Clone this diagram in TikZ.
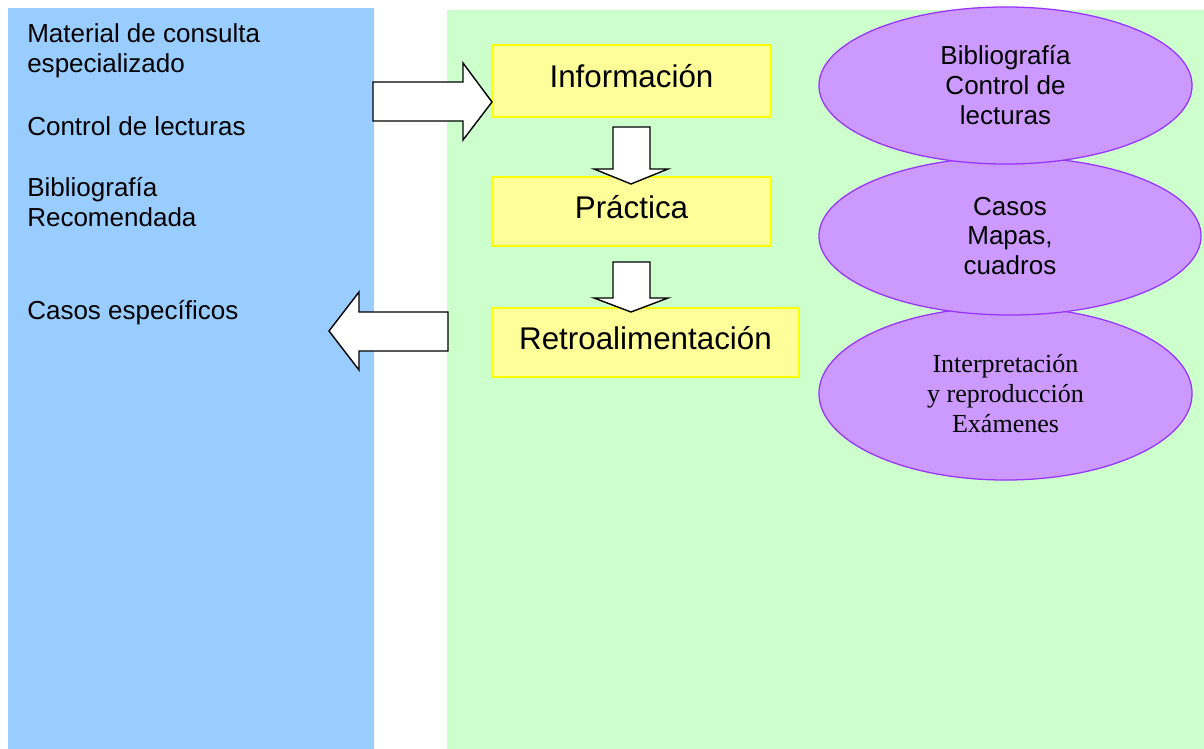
\documentclass[tikz,border=0pt]{standalone}
\usepackage{fontspec}
\setmainfont{Liberation Sans}
\newfontfamily\timesfont{Liberation Serif}
\usetikzlibrary{shapes.geometric}
\definecolor{panelblue}{HTML}{99CCFF}
\definecolor{panelgreen}{HTML}{CCFFCC}
\definecolor{boxfill}{HTML}{FFFF99}
\definecolor{boxline}{HTML}{FFFF00}
\definecolor{ovalfill}{HTML}{CC99FF}
\definecolor{ovalline}{HTML}{9933FF}
\begin{document}
\begin{tikzpicture}[x=0.025cm, y=-0.025cm,
                step box/.style={draw=boxline, fill=boxfill, line width=1pt, inner sep=0,
                    text depth=7pt, font=\fontsize{22.3}{26}\selectfont},
                oval/.style={ellipse, draw=ovalline, fill=ovalfill, line width=0.9pt, inner sep=0,
                    align=center, font=\fontsize{18.5}{21.3}\selectfont},
                side text/.style={anchor=north west, align=left, inner sep=0,
                    font=\fontsize{18.5}{21.3}\selectfont},
                block arrow/.style={draw, fill=white, line width=1pt, line join=miter}]
            \useasboundingbox (0,0) rectangle (1204,749);
            \fill [panelblue] (8,8) rectangle (374,749);
            \fill [panelgreen] (447,10) rectangle (1204,749);

            \node [side text] (material) at (27,23) {Material de consulta\\especializado};
            \node [side text] (control) at (27,116) {Control de lecturas};
            \node [side text] (biblio) at (27,177) {Bibliografía\\Recomendada};
            \node [side text] (casos) at (27,300) {Casos específicos};

            \node [step box, minimum width=6.975cm, minimum height=1.8cm] (info) at (631.5,81) {Información};
            \node [step box, minimum width=6.975cm, minimum height=1.725cm] (prac) at (631.5,211.5) {Práctica};
            \node [step box, minimum width=7.675cm, minimum height=1.725cm] (retro) at (645.5,342.5) {Retroalimentación};

            \node [oval, minimum width=9.325cm, minimum height=4.325cm] (exam) at (1005.5,393.5)
                {\timesfont Interpretación\\\timesfont y reproducción\\\timesfont Exámenes};
            \node [oval, minimum width=9.55cm, minimum height=3.95cm] (casosov) at (1010,236)
                {Casos\\Mapas,\\cuadros};
            \node [oval, minimum width=9.325cm, minimum height=3.925cm] (bibov) at (1005.5,85.5)
                {Bibliografía\\Control de\\lecturas};

            % block arrows
            \draw [block arrow] (373,82) -- (463,82) -- (463,63) -- (492,102)
                -- (463,140) -- (463,121) -- (373,121) -- cycle;
            \draw [block arrow] (448,312) -- (359,312) -- (359,292) -- (329,331)
                -- (359,370) -- (359,351) -- (448,351) -- cycle;
            \draw [block arrow] (613,127) -- (650,127) -- (650,169) -- (668,169)
                -- (631,184) -- (594,169) -- (613,169) -- cycle;
            \draw [block arrow] (613,262) -- (650,262) -- (650,298) -- (668,298)
                -- (631,312) -- (594,298) -- (613,298) -- cycle;
        \end{tikzpicture}
\end{document}
